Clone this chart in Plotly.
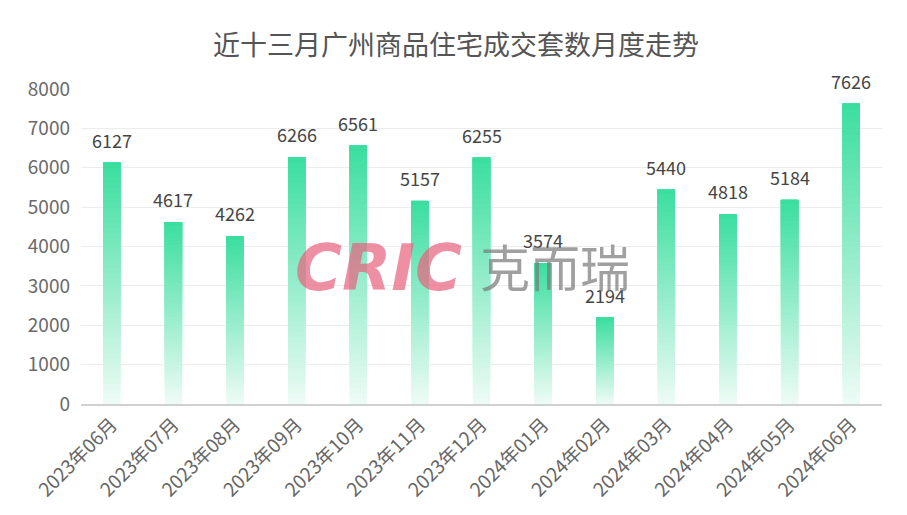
import plotly.graph_objects as go

months = ["2023年06月", "2023年07月", "2023年08月", "2023年09月", "2023年10月", "2023年11月",
          "2023年12月", "2024年01月", "2024年02月", "2024年03月", "2024年04月", "2024年05月", "2024年06月"]
volumes = [6127, 4617, 4262, 6266, 6561, 5157, 6255, 3574, 2194, 5440, 4818, 5184, 7626]
y_ticks = [0, 1000, 2000, 3000, 4000, 5000, 6000, 7000, 8000]
title_text = "近十三月广州商品住宅成交套数月度走势"

top_rgb = (60, 222, 160)
bot_rgb = (236, 251, 245)
N = 48

fig = go.Figure()
for k in range(N):
    t = k / (N - 1)
    c = tuple(int(round(bot_rgb[i] + (top_rgb[i] - bot_rgb[i]) * t)) for i in range(3))
    frac = k / N
    fig.add_trace(go.Bar(
        x=months,
        y=[v * (1 - frac) for v in volumes],
        base=[v * frac for v in volumes],
        marker=dict(color="rgb(%d,%d,%d)" % c, line=dict(width=0)),
        width=0.28,
        hoverinfo="skip",
        showlegend=False,
    ))

for m, v in zip(months, volumes):
    fig.add_annotation(x=m, y=v, text=str(v), showarrow=False, yanchor="middle", yshift=23,
                       font=dict(size=18, color="#454545", family="Noto Sans CJK SC"))

fig.add_annotation(x=0.371, y=0.432, xref="paper", yref="paper", text="<b><i>CRIC</i></b>",
                   showarrow=False, font=dict(size=64, color="rgba(232,100,128,0.72)", family="DejaVu Sans"))
fig.add_annotation(x=0.592, y=0.44, xref="paper", yref="paper", text="克而瑞",
                   showarrow=False, font=dict(size=50, color="rgba(120,120,120,0.7)", family="Noto Sans CJK SC"))

fig.update_layout(
    width=907, height=515,
    barmode="overlay",
    plot_bgcolor="white", paper_bgcolor="white",
    margin=dict(l=73, r=33, t=81, b=119),
    title=dict(text=title_text, x=0.494, xanchor="center", y=0.928, yanchor="middle",
               font=dict(size=27, color="#555555", family="Noto Sans CJK SC")),
    font=dict(family="Noto Sans CJK SC"),
)
fig.update_yaxes(range=[0, 8000], tickvals=y_ticks, ticktext=[str(v) for v in y_ticks],
                 showgrid=True, gridcolor="#ececec", gridwidth=1, zeroline=False,
                 tickfont=dict(size=19, color="#6a6a6a"), ticks="", ticklabelstandoff=10)
fig.update_xaxes(tickangle=-45, tickfont=dict(size=19, color="#666666"),
                 showline=True, linecolor="#d0d0d0", linewidth=2, ticks="", showgrid=False)

fig.write_html("out.html")
